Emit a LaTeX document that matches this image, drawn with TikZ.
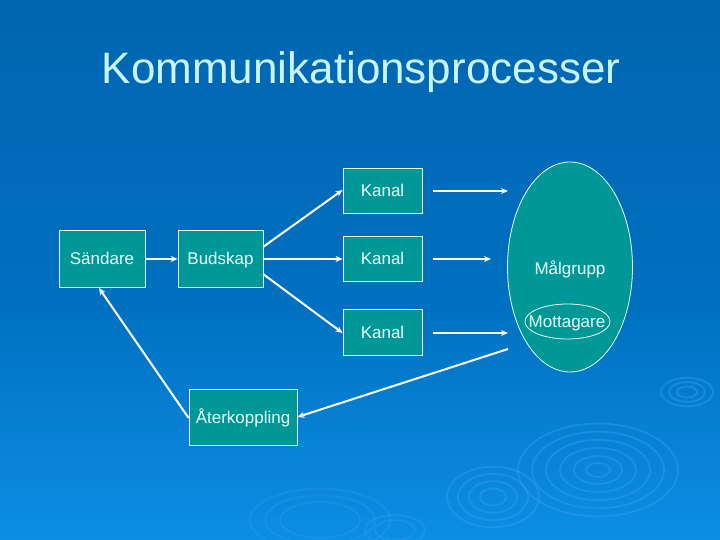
\documentclass[tikz,border=0pt]{standalone}
\usepackage{fontspec}
\setmainfont{Liberation Sans}
\usetikzlibrary{arrows.meta,shapes.geometric}
\definecolor{bgtop}{RGB}{0,101,176}
\definecolor{bgmid}{RGB}{0,112,192}
\definecolor{bgbot}{RGB}{12,142,228}
\definecolor{boxfill}{RGB}{0,152,150}
\definecolor{txt}{RGB}{236,255,255}
\definecolor{titlec}{RGB}{200,245,255}
\definecolor{ripple}{RGB}{50,160,240}
\tikzset{
  box/.style={draw=txt, line width=0.8pt, fill=boxfill, text=txt, font=\fontsize{17}{20}\selectfont, inner sep=0pt, text height=12.2pt, text depth=0pt},
  conn/.style={draw=white, line width=2pt, -{Stealth[length=7pt,width=6pt]}},
  rip/.style={draw=ripple, line width=1.8pt, opacity=0.45}
}
\begin{document}
\begin{tikzpicture}[x=1pt,y=-1pt]
\useasboundingbox (0,0) rectangle (720,540);
\shade[top color=bgtop, bottom color=bgmid] (0,0) rectangle (720,300);
\shade[top color=bgmid, bottom color=bgbot] (0,300) rectangle (720,540);
% ripples
\foreach \r in {80,66,52,38,24,12} \draw[rip] (598,470) ellipse ({\r} and {\r*0.58});
\foreach \r in {46,35,24,13} \draw[rip] (493,497) ellipse ({\r} and {\r*0.66});
\foreach \r in {26,18,10} \draw[rip] (687,392) ellipse ({\r} and {\r*0.55});
\foreach \r in {70,55,40} \draw[rip,opacity=0.3] (320,520) ellipse ({\r} and {\r*0.45});
\foreach \r in {30,20} \draw[rip,opacity=0.35] (395,530) ellipse ({\r} and {\r*0.5});
% title
\node[text=titlec, font=\fontsize{44}{50}\selectfont, anchor=base] (title) at (361,84) {Kommunikationsprocesser};
% boxes
\node[box, minimum width=86pt, minimum height=57pt] (sand) at (102,258.5) {Sändare};
\node[box, minimum width=85pt, minimum height=57pt] (bud) at (220.5,258.5) {Budskap};
\node[box, minimum width=79pt, minimum height=45pt] (k1) at (382.5,190.5) {Kanal};
\node[box, minimum width=79pt, minimum height=45pt] (k2) at (382.5,258.5) {Kanal};
\node[box, minimum width=79pt, minimum height=46pt] (k3) at (382.5,332) {Kanal};
\node[box, minimum width=108pt, minimum height=56pt] (ater) at (243,417) {Återkoppling};
% target group
\node[ellipse, draw=txt, line width=0.8pt, fill=boxfill, minimum width=125pt, minimum height=210pt, inner sep=0pt] (mal) at (570,267) {};
\node[text=txt, font=\fontsize{17}{20}\selectfont, inner sep=0pt, text height=12.2pt, text depth=0pt] (maltxt) at (570,268) {Målgrupp};
\node[ellipse, draw=txt, line width=0.8pt, minimum width=85pt, minimum height=35pt, inner sep=0pt] (mott) at (567.5,321.5) {};
\node[text=txt, font=\fontsize{17}{20}\selectfont, inner sep=0pt, text height=12.2pt, text depth=0pt] (motttxt) at (567,321) {Mottagare};
% coordinates for free ends
\coordinate (e1s) at (433,191);
\coordinate (e1e) at (508,191);
\coordinate (e2s) at (433,259);
\coordinate (e2e) at (491,259);
\coordinate (e3s) at (433,333);
\coordinate (e3e) at (508,333);
\coordinate (fbs) at (508,349);
% connectors
\draw[conn] (sand.east |- 0,259) -- (bud.west |- 0,259);
\draw[conn] (263,247) -- (k1.west |- 0,190);
\draw[conn] (bud.east |- 0,259) -- (k2.west |- 0,259);
\draw[conn] (263,274) -- (k3.west |- 0,333);
\draw[conn] (e1s) -- (e1e);
\draw[conn] (e2s) -- (e2e);
\draw[conn] (e3s) -- (e3e);
\draw[conn] (fbs) -- (ater.east |- 0,417);
\draw[conn] (ater.west |- 0,418) -- (99,288);
\end{tikzpicture}
\end{document}
